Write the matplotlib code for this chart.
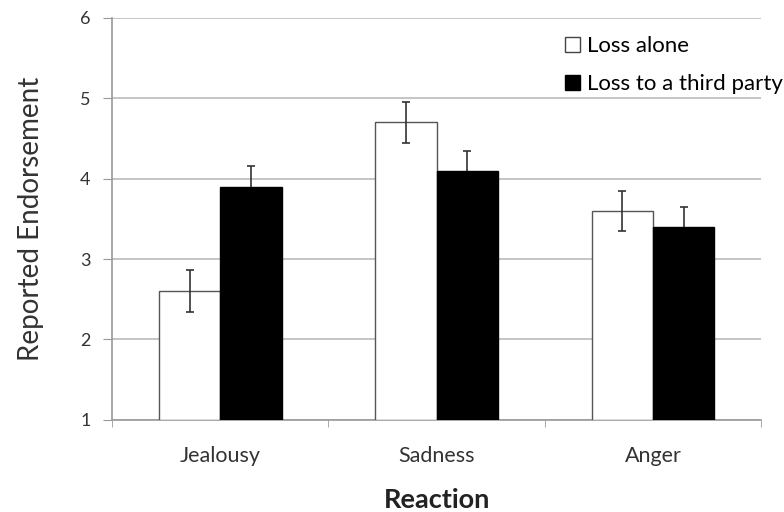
import numpy as np
import matplotlib.pyplot as plt
from matplotlib.patches import Patch

# data
reactions = ["Jealousy", "Sadness", "Anger"]
loss_alone = [2.6, 4.7, 3.6]
loss_alone_err = [0.26, 0.26, 0.25]
loss_third = [3.9, 4.1, 3.4]
loss_third_err = [0.26, 0.25, 0.25]
series_labels = ["Loss alone", "Loss to a third party"]

plt.rcParams['font.family'] = ['Lato', 'DejaVu Sans']

fig = plt.figure(figsize=(7.84, 5.12), dpi=100)
ax = fig.add_axes([0.143, 0.180, 0.828, 0.785])

x = np.arange(len(reactions))
width = 0.283
base = 1.0

ax.bar(x - width / 2, np.array(loss_alone) - base, width, bottom=base,
       color="white", edgecolor="#555555", linewidth=1.0, zorder=3)
ax.bar(x + width / 2, np.array(loss_third) - base, width, bottom=base,
       color="black", edgecolor="black", linewidth=1.0, zorder=3)
ax.errorbar(x - width / 2, loss_alone, yerr=loss_alone_err, fmt="none",
            ecolor="#333333", elinewidth=1.2, capsize=3, capthick=1.2, zorder=4)
# drawn under the black bars so only the upper whisker shows
ax.errorbar(x + width / 2, loss_third, yerr=loss_third_err, fmt="none",
            ecolor="#333333", elinewidth=1.2, capsize=3, capthick=1.2, zorder=2)

ax.set_xlim(-0.5, 2.5)
ax.set_ylim(1, 6)
ax.set_yticks(range(1, 7))
ax.yaxis.grid(True, color="#bbbbbb", linewidth=1.2, zorder=0)
ax.set_axisbelow(True)

ax.set_xticks(x)
ax.set_xticklabels(reactions, fontsize=15.5, color="#333333")
ax.set_xticks([-0.5, 0.5, 1.5, 2.5], minor=True)
ax.tick_params(axis="x", which="major", length=0, pad=19)
ax.tick_params(axis="x", which="minor", length=5, color="#999999")
ax.tick_params(axis="y", length=6.5, color="#999999", labelsize=13,
               labelcolor="#333333", pad=9)

for side in ["top", "right"]:
    ax.spines[side].set_visible(False)
for side in ["left", "bottom"]:
    ax.spines[side].set_color("#999999")
    ax.spines[side].set_linewidth(1.2)

ax.set_ylabel("Reported Endorsement", fontsize=20, color="#333333", labelpad=26)
ax.set_xlabel("Reaction", fontsize=19.5, fontweight="bold", color="#222222",
              labelpad=16)

handles = [Patch(facecolor="white", edgecolor="#444444"),
           Patch(facecolor="black", edgecolor="black")]
fig.legend(handles, series_labels, loc="upper right",
           bbox_to_anchor=(1.024, 0.968), frameon=False, fontsize=16,
           handlelength=0.7, handleheight=0.7, handletextpad=0.3,
           labelspacing=0.8)

fig.savefig("out.png", dpi=100)
